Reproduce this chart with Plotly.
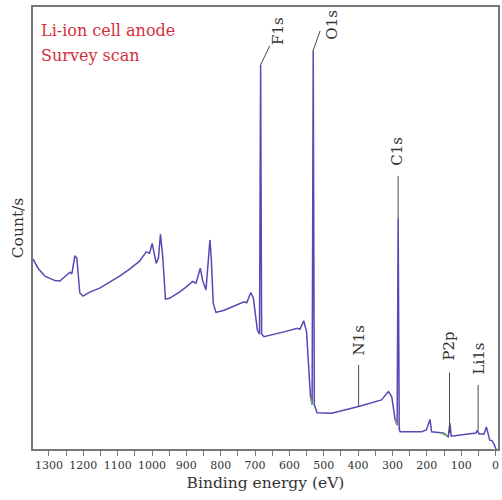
import plotly.graph_objects as go

# Survey spectrum (binding energy in eV, counts in arbitrary units)
binding_energy = [1346.4, 1331.9, 1311.6, 1282.6, 1268.1, 1248.7, 1239.1, 1233.3, 1224.6, 1218.8,
                  1210.1, 1200.6, 1181.2, 1152.2, 1123.2, 1094.2, 1065.2, 1036.2, 1016.8, 1007.2,
                  999.4, 987.8, 981.2, 975.4, 968.7, 960.9, 949.3, 920.3, 900.0, 881.7,
                  871.9, 859.4, 852.8, 842.9, 831.3, 827.5, 821.7, 813.9, 789.9, 760.9,
                  731.9, 724.1, 712.5, 704.9, 693.3, 687.0, 683.8, 680.9, 673.9, 616.0,
                  577.4, 569.6, 558.0, 550.1, 538.6, 533.9, 530.7, 527.5, 519.4, 476.8,
                  398.6, 331.9, 311.6, 302.0, 292.2, 286.4, 283.5, 280.3, 277.7, 215.1,
                  201.4, 190.7, 186.1, 152.2, 137.7, 132.8, 129.0, 79.7, 56.5, 52.8,
                  47.8, 33.3, 26.7, 16.8, 10.1, 4.3, -2.3]
counts = [43.0, 40.9, 39.1, 38.1, 38.0, 39.4, 40.0, 39.6, 43.7, 43.2,
          35.3, 34.6, 35.5, 36.4, 37.8, 39.1, 40.7, 42.5, 44.6, 44.3,
          46.5, 42.0, 43.2, 48.6, 43.5, 33.9, 34.1, 35.5, 36.7, 37.9,
          37.5, 40.9, 38.2, 36.0, 47.3, 43.2, 33.0, 30.9, 31.4, 32.4,
          33.3, 33.1, 35.4, 34.1, 26.9, 26.0, 86.9, 26.0, 25.4, 26.5,
          27.3, 27.1, 29.0, 26.5, 11.8, 10.0, 90.2, 10.0, 8.2, 8.1,
          9.6, 11.1, 13.0, 11.8, 6.6, 5.4, 52.3, 4.5, 3.9, 3.9,
          4.3, 6.7, 3.9, 3.6, 2.8, 5.8, 2.9, 3.4, 3.6, 4.3,
          3.4, 3.4, 5.0, 2.0, 1.9, 1.1, -0.2]

# Small fitted-component fragments visible at peak bases (green)
component_energy = [538.6, 533.9, None, 292.2, 286.4, None, 160.0, 140.0]
component_counts = [11.8, 10.0, None, 6.6, 5.4, None, 3.6, 3.0]

# Peak labels
peak_labels = ["F1s", "O1s", "C1s", "N1s", "P2p", "Li1s"]
peak_energy = [683.8, 530.7, 283.5, 398.6, 133.9, 50.7]
peak_counts = [86.9, 90.2, 52.3, 9.6, 3.6, 4.3]
leader_end_energy = [657.4, 510.7, 283.5, 398.6, 133.9, 50.7]
leader_end_counts = [91.2, 94.6, 61.8, 19.0, 17.3, 14.5]
label_energy = [631.3, 476.8, 285.5, 396.2, 134.8, 49.3]
label_counts = [90.9, 92.1, 63.6, 20.8, 19.5, 16.3]

x_ticks = list(range(0, 1301, 100))

SERIF = "DejaVu Serif"

fig = go.Figure()
fig.add_trace(go.Scatter(x=binding_energy, y=counts, mode="lines",
                         line=dict(color="#5a46b4", width=1.5), showlegend=False,
                         hoverinfo="skip"))
fig.add_trace(go.Scatter(x=component_energy, y=component_counts, mode="lines",
                         line=dict(color="#6cc24a", width=1.2), showlegend=False,
                         hoverinfo="skip", connectgaps=False))

for lab, pe, pc, le, lc, tx, ty in zip(peak_labels, peak_energy, peak_counts,
                                       leader_end_energy, leader_end_counts,
                                       label_energy, label_counts):
    fig.add_shape(type="line", x0=pe, y0=pc, x1=le, y1=lc, xref="x", yref="y",
                  line=dict(color="#4a4a4a", width=1))
    fig.add_annotation(x=tx, y=ty, xref="x", yref="y", text=lab, showarrow=False,
                       textangle=-90, xanchor="center", yanchor="bottom",
                       font=dict(family=SERIF, size=15, color="#333333"))

fig.add_annotation(x=0.012, y=0.947, xref="paper", yref="paper", text="Li-ion cell anode",
                   showarrow=False, xanchor="left", yanchor="middle",
                   font=dict(family=SERIF, size=16, color="#d42e3c"))
fig.add_annotation(x=0.012, y=0.891, xref="paper", yref="paper", text="Survey scan",
                   showarrow=False, xanchor="left", yanchor="middle",
                   font=dict(family=SERIF, size=16, color="#d42e3c"))

fig.update_layout(
    width=502, height=500,
    margin=dict(l=33, r=2, t=7, b=51),
    paper_bgcolor="white", plot_bgcolor="white",
    font=dict(family=SERIF, color="#333333"),
    xaxis=dict(range=[1346.4, -7.2], tickvals=x_ticks, ticktext=[str(v) for v in x_ticks],
               ticks="outside", ticklen=5, tickcolor="#777777", tickwidth=1,
               minor=dict(dtick=50, tick0=0, ticks="outside", ticklen=5, tickcolor="#777777"),
               showline=True, linecolor="#777777", linewidth=1.5, mirror=True,
               showgrid=False, zeroline=False,
               tickfont=dict(family=SERIF, size=11, color="#333333"),
               title=dict(text="Binding energy (eV)", font=dict(family=SERIF, size=15.5, color="#333333"),
                          standoff=6)),
    yaxis=dict(range=[0, 100], showticklabels=False, ticks="",
               showline=True, linecolor="#777777", linewidth=1.5, mirror=True,
               showgrid=False, zeroline=False,
               title=dict(text="Count/s", font=dict(family=SERIF, size=15.5, color="#333333"),
                          standoff=4)),
)

fig.write_html("out.html")
